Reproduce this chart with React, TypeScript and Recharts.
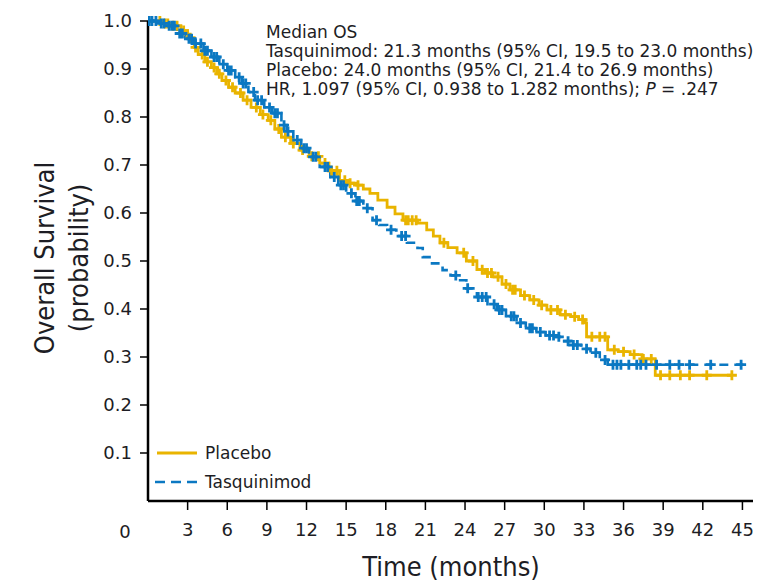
import React from 'react';
import { ComposedChart, Line, Scatter, XAxis, YAxis } from 'recharts';

// Kaplan-Meier steps (months, survival probability)
const placeboTime = [0, 1.0, 1.8, 2.5, 3.0, 3.5, 3.8, 4.3, 4.8, 5.2, 5.6, 6.1, 6.6, 7.2, 7.8, 8.5, 9.1, 9.6, 10.1, 10.8, 11.5, 12.2, 13.0, 13.7, 14.5, 15.2, 15.8, 16.3, 16.8, 17.4, 18.1, 18.7, 19.3, 20.4, 21.1, 21.6, 22.1, 22.7, 23.4, 24.1, 24.9, 25.5, 26.1, 26.8, 27.4, 28.2, 28.9, 29.6, 30.2, 31.2, 32.0, 32.6, 33.1, 33.2, 34.8, 35.6, 36.5, 37.4, 38.4, 44.2];
const placeboSurv = [1.0, 0.995, 0.99, 0.98, 0.965, 0.945, 0.93, 0.915, 0.903, 0.89, 0.876, 0.862, 0.85, 0.835, 0.82, 0.805, 0.793, 0.775, 0.758, 0.745, 0.731, 0.718, 0.704, 0.688, 0.668, 0.662, 0.658, 0.65, 0.641, 0.627, 0.612, 0.598, 0.585, 0.579, 0.565, 0.552, 0.538, 0.528, 0.517, 0.5, 0.482, 0.475, 0.467, 0.452, 0.44, 0.428, 0.419, 0.408, 0.398, 0.388, 0.384, 0.378, 0.371, 0.342, 0.315, 0.311, 0.305, 0.296, 0.262, 0.262];
const placeboCensor = [0.9, 1.3, 1.5, 1.9, 2.2, 2.7, 3.2, 3.6, 4.1, 4.5, 5.0, 5.4, 5.9, 6.4, 7.0, 7.5, 8.2, 8.7, 9.3, 9.9, 10.4, 11.0, 11.7, 12.4, 12.9, 13.4, 13.9, 14.3, 14.9, 15.3, 15.9, 19.5, 19.7, 20.0, 20.3, 22.4, 23.9, 24.6, 25.3, 25.7, 26.0, 26.5, 27.1, 27.6, 27.8, 28.5, 29.2, 29.8, 30.5, 31.0, 31.6, 32.3, 32.9, 33.6, 34.2, 34.6, 35.3, 36.0, 36.8, 37.5, 38.1, 38.8, 39.5, 40.3, 41.0, 42.3, 44.2];

const tasqTime = [0, 0.8, 1.3, 2.2, 2.8, 3.5, 4.2, 4.8, 5.4, 6.0, 6.6, 7.1, 7.6, 8.1, 8.8, 9.4, 10.1, 10.5, 11.0, 11.6, 12.2, 13.0, 13.8, 14.4, 15.0, 15.7, 16.3, 17.0, 17.5, 18.1, 18.8, 19.6, 20.4, 20.8, 21.5, 22.3, 22.9, 23.4, 24.1, 24.9, 25.7, 26.4, 27.1, 27.9, 28.6, 29.4, 30.1, 30.9, 31.4, 32.0, 32.8, 33.5, 34.2, 34.8, 45.1];
const tasqSurv = [1.0, 0.995, 0.99, 0.974, 0.963, 0.953, 0.938, 0.925, 0.91, 0.897, 0.883, 0.87, 0.852, 0.835, 0.82, 0.808, 0.783, 0.77, 0.752, 0.735, 0.717, 0.696, 0.675, 0.658, 0.641, 0.625, 0.61, 0.585, 0.575, 0.565, 0.552, 0.538, 0.527, 0.508, 0.495, 0.481, 0.47, 0.46, 0.443, 0.425, 0.41, 0.398, 0.385, 0.371, 0.36, 0.352, 0.345, 0.342, 0.333, 0.325, 0.317, 0.309, 0.294, 0.284, 0.284];
const tasqCensor = [0.1, 0.3, 0.6, 1.0, 1.2, 1.6, 1.8, 2.0, 2.4, 2.6, 3.1, 3.3, 3.6, 4.0, 4.3, 4.5, 5.0, 5.2, 5.7, 6.1, 6.3, 6.9, 7.2, 7.4, 8.0, 8.3, 8.6, 9.2, 9.6, 9.8, 10.3, 10.6, 11.3, 11.8, 12.0, 12.5, 12.7, 13.4, 13.6, 14.1, 14.6, 14.8, 15.4, 15.8, 16.0, 16.6, 17.3, 18.4, 19.2, 19.5, 23.3, 24.2, 25.0, 25.3, 25.6, 26.2, 26.6, 26.8, 27.5, 27.7, 28.2, 28.9, 29.1, 29.7, 30.4, 30.7, 31.1, 31.8, 32.2, 32.5, 33.2, 33.9, 34.6, 35.2, 35.5, 35.8, 36.4, 37.0, 37.3, 37.7, 38.5, 39.5, 40.2, 41.0, 42.6, 44.9];

const xTicks = [3, 6, 9, 12, 15, 18, 21, 24, 27, 30, 33, 36, 39, 42, 45];
const yTicks = [0.1, 0.2, 0.3, 0.4, 0.5, 0.6, 0.7, 0.8, 0.9, 1.0];

const annotationLines = [
    'Median OS',
    'Tasquinimod: 21.3 months (95% CI, 19.5 to 23.0 months)',
    'Placebo: 24.0 months (95% CI, 21.4 to 26.9 months)',
];

const YELLOW = '#E9B400';
const BLUE = '#0B78C2';
const INK = '#1d1d24';
const FONT = "'DejaVu Sans', sans-serif";
const COND = "'DejaVu Sans Condensed', 'DejaVu Sans', sans-serif";

function steps(times: number[], surv: number[]) {
    return times.map((t, i) => ({ t, s: surv[i] }));
}

// place a censor mark on the curve it belongs to
function marks(censor: number[], times: number[], surv: number[]) {
    return censor.map((t) => {
        let s = surv[0];
        for (let i = 0; i < times.length; i++) {
            if (times[i] <= t) s = surv[i];
        }
        return { t, s };
    });
}

const placeboData = steps(placeboTime, placeboSurv);
const tasqData = steps(tasqTime, tasqSurv);
const placeboMarks = marks(placeboCensor, placeboTime, placeboSurv);
const tasqMarks = marks(tasqCensor, tasqTime, tasqSurv);

function plus(color: string) {
    return (props: any) => {
        const { cx, cy } = props;
        return (
            <path
                d={`M${cx - 5},${cy}h10M${cx},${cy - 5}v10`}
                stroke={color}
                strokeWidth={2.8}
                fill='none'
            />
        );
    };
}

export default function App() {
    return (
        <div style={{ position: 'absolute', left: 0, top: 0, width: 769, height: 581, background: '#fff' }}>
            <ComposedChart
                width={769}
                height={581}
                margin={{ top: 21, right: 16, bottom: 0, left: 0 }}
            >
                <XAxis
                    dataKey='t'
                    type='number'
                    domain={[0, 45.8]}
                    ticks={xTicks}
                    allowDataOverflow
                    height={80}
                    axisLine={{ stroke: '#000', strokeWidth: 2.5 }}
                    tickLine={{ stroke: '#000', strokeWidth: 1.5 }}
                    tickSize={9}
                    tickMargin={13}
                    tick={{ fontSize: 18, fill: INK, fontFamily: FONT }}
                />
                <YAxis
                    type='number'
                    domain={[0, 1]}
                    ticks={yTicks}
                    width={148}
                    tickFormatter={(v: number) => v.toFixed(1)}
                    axisLine={{ stroke: '#000', strokeWidth: 2.5 }}
                    tickLine={{ stroke: '#000', strokeWidth: 1.5 }}
                    tickSize={8}
                    tickMargin={8}
                    tick={{ fontSize: 18, fill: INK, fontFamily: FONT }}
                />
                <Line
                    data={placeboData}
                    dataKey='s'
                    type='stepAfter'
                    stroke={YELLOW}
                    strokeWidth={2.8}
                    dot={false}
                    activeDot={false}
                    isAnimationActive={false}
                />
                <Line
                    data={tasqData}
                    dataKey='s'
                    type='stepAfter'
                    stroke={BLUE}
                    strokeWidth={2.6}
                    strokeDasharray='9 6'
                    dot={false}
                    activeDot={false}
                    isAnimationActive={false}
                />
                <Scatter data={placeboMarks} dataKey='s' shape={plus(YELLOW)} isAnimationActive={false} />
                <Scatter data={tasqMarks} dataKey='s' shape={plus(BLUE)} isAnimationActive={false} />
            </ComposedChart>
            <svg
                width={769}
                height={581}
                style={{ position: 'absolute', left: 0, top: 0, pointerEvents: 'none' }}
            >
                <text x={125} y={538} textAnchor='middle' fontSize={18} fill={INK} fontFamily={FONT}>0</text>
                {annotationLines.map((line, i) => (
                    <text key={i} x={266} y={38 + i * 19} fontSize={17} fill={INK} fontFamily={FONT}>{line}</text>
                ))}
                <text x={266} y={95} fontSize={17} fill={INK} fontFamily={FONT}>
                    HR, 1.097 (95% CI, 0.938 to 1.282 months); <tspan fontStyle='italic'>P</tspan> = .247
                </text>
                <line x1={157} x2={197} y1={453} y2={453} stroke={YELLOW} strokeWidth={3} />
                <text x={205} y={459} fontSize={17} fill={INK} fontFamily={FONT}>Placebo</text>
                <line x1={155} x2={197} y1={482} y2={482} stroke={BLUE} strokeWidth={2.4} strokeDasharray='10 6' />
                <text x={205} y={488} fontSize={17} fill={INK} fontFamily={FONT}>Tasquinimod</text>
                <text x={451} y={576} textAnchor='middle' fontSize={27} fill={INK} fontFamily={COND}>Time (months)</text>
                <text transform='translate(54,258) rotate(-90)' textAnchor='middle' fontSize={27} fill={INK} fontFamily={COND}>Overall Survival</text>
                <text transform='translate(88,258) rotate(-90)' textAnchor='middle' fontSize={27} fill={INK} fontFamily={COND}>(probability)</text>
            </svg>
        </div>
    );
}
